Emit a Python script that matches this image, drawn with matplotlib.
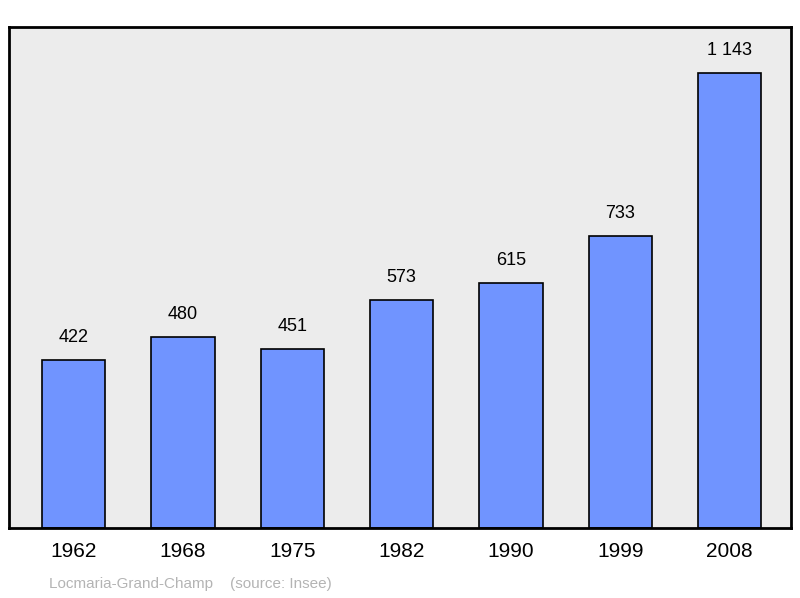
import matplotlib
matplotlib.use("Agg")
import matplotlib.pyplot as plt

years = ["1962", "1968", "1975", "1982", "1990", "1999", "2008"]
population = [422, 480, 451, 573, 615, 733, 1143]
value_labels = ["422", "480", "451", "573", "615", "733", "1 143"]

plt.rcParams["font.family"] = ["Liberation Sans", "DejaVu Sans"]

fig = plt.figure(figsize=(8, 5.98), dpi=100)
ax = fig.add_axes([0.01125, 0.117, 0.9775, 0.838])
ax.set_facecolor("#ececec")

x = range(len(years))
ax.bar(x, population, width=0.58, color="#7094ff", edgecolor="black",
       linewidth=1.2, zorder=2)
for xi, v, lab in zip(x, population, value_labels):
    ax.text(xi, v + 35, lab, ha="center", va="bottom", fontsize=13)

ax.set_xlim(-0.59, 6.56)
ax.set_ylim(0, 1259)
ax.set_yticks([])
ax.set_xticks(list(x))
ax.set_xticklabels(years, fontsize=15)
ax.tick_params(axis="x", length=0, pad=10)
for s in ax.spines.values():
    s.set_linewidth(2)

fig.text(49 / 800, 1 - 584 / 598, "Locmaria-Grand-Champ    (source: Insee)",
         fontsize=11, color="#b4b4b4", va="center", ha="left")

fig.savefig("out.png", dpi=100)
